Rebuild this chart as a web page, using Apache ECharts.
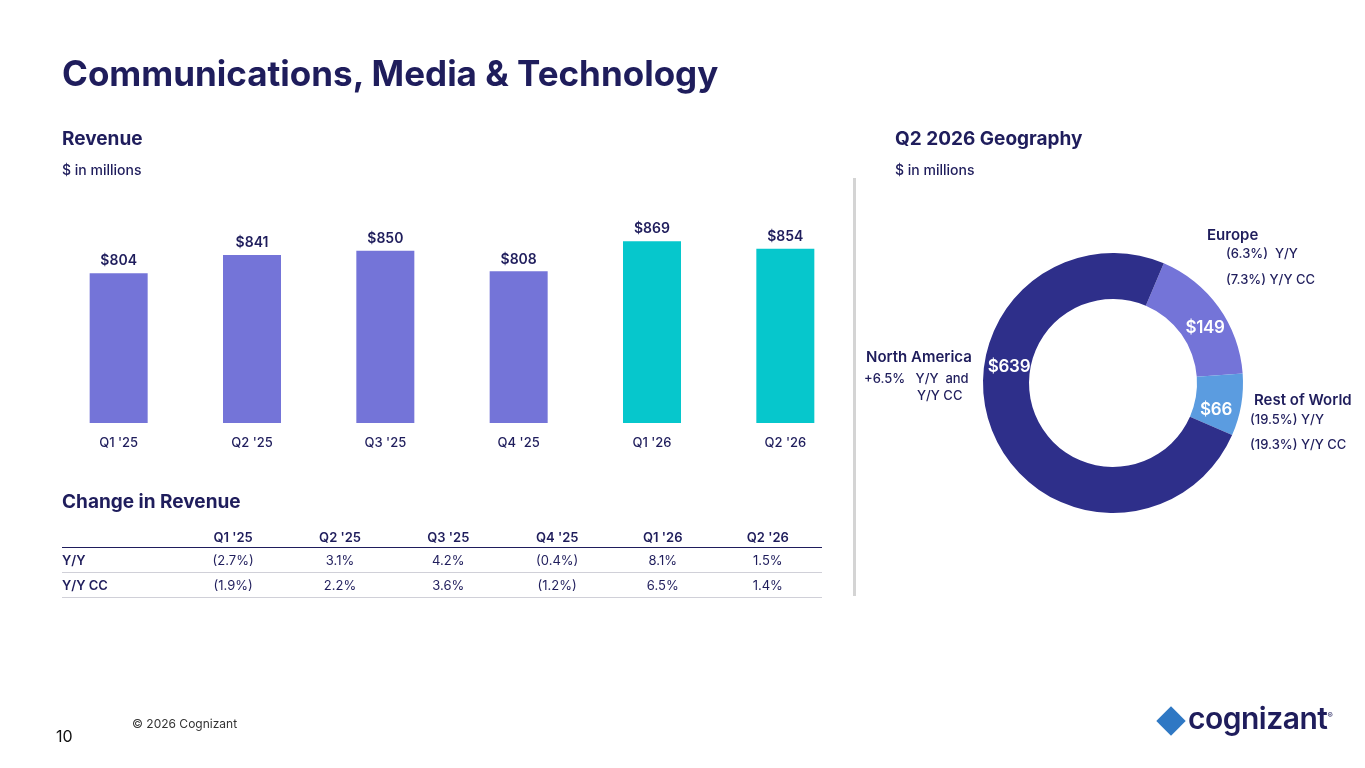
<!DOCTYPE html>
<html><head><meta charset="utf-8">
<script src="https://cdn.jsdelivr.net/npm/echarts@6/dist/echarts.min.js"></script>
<style>
body{margin:0;width:1365px;height:768px;background:#fff;font-family:Inter,"Noto Sans",sans-serif;color:#1f1d5c;position:relative;overflow:hidden}
.t{position:absolute;white-space:nowrap}
#c{position:absolute;left:0;top:0;width:1365px;height:768px}
table{position:absolute;left:62px;top:527px;width:760px;border-collapse:collapse;font-size:13px}
td,th{height:24px;padding:0;text-align:center;font-weight:400}
th{font-weight:600;border-bottom:1.5px solid #1f1d5c;height:20px}
tr.r td{border-bottom:1px solid #d0d0d8}
td:first-child,th:first-child{text-align:left;font-weight:600}
.pl{position:absolute;color:#fff;font-size:17px;font-weight:600;transform:translate(-50%,-50%);letter-spacing:-0.3px}
</style></head><body>
<div id="c"></div>
<div class="t" style="left:62px;top:52px;font-size:35px;font-weight:700">Communications, Media &amp; Technology</div>
<div class="t" style="left:62px;top:127px;font-size:19px;font-weight:700">Revenue</div>
<div class="t" style="left:62px;top:161px;font-size:14px;font-weight:500">$ in millions</div>
<div class="t" style="left:895px;top:127px;font-size:19px;font-weight:700">Q2 2026 Geography</div>
<div class="t" style="left:895px;top:161px;font-size:14px;font-weight:500">$ in millions</div>
<div class="t" style="left:62px;top:490px;font-size:19px;font-weight:700">Change in Revenue</div>
<div style="position:absolute;left:853px;top:178px;width:3px;height:418px;background:#d4d4d4"></div>
<div class="t" style="left:1207px;top:225px;font-size:15px;font-weight:600">Europe</div>
<div class="t" style="left:1226px;top:245px;font-size:13px;font-weight:500">(6.3%)&nbsp; Y/Y</div>
<div class="t" style="left:1226px;top:271px;font-size:13px;font-weight:500">(7.3%) Y/Y CC</div>
<div class="t" style="left:866px;top:347px;font-size:15px;font-weight:600">North America</div>
<div class="t" style="left:864px;top:370px;font-size:13px;font-weight:500">+6.5%&nbsp;&nbsp; Y/Y&nbsp; and</div>
<div class="t" style="left:917px;top:387px;font-size:13px;font-weight:500">Y/Y CC</div>
<div class="t" style="left:1254px;top:390px;font-size:15px;font-weight:600">Rest of World</div>
<div class="t" style="left:1250px;top:411px;font-size:13px;font-weight:500">(19.5%) Y/Y</div>
<div class="t" style="left:1250px;top:436px;font-size:13px;font-weight:500">(19.3%) Y/Y CC</div>
<div class="t" style="left:132px;top:716px;font-size:12px;color:#333">© 2026 Cognizant</div>
<div class="t" style="left:56px;top:726px;font-size:16px;color:#111">10</div>
<div class="t" style="left:1188px;top:700px;font-size:30px;font-weight:600;letter-spacing:-0.5px">cognizant<sup style="font-size:8px">®</sup></div>
<div style="position:absolute;left:1158px;top:708px;width:26px;height:26px;background:#2f78c4;transform:rotate(45deg) scale(0.8)"></div>
<div id="pl"></div>
<table id="tb"></table>
<script>
const categories=["Q1 '25","Q2 '25","Q3 '25","Q4 '25","Q1 '26","Q2 '26"];
const revenue=[804,841,850,808,869,854];
const yoy=["(2.7%)","3.1%","4.2%","(0.4%)","8.1%","1.5%"];
const yoyCC=["(1.9%)","2.2%","3.6%","(1.2%)","6.5%","1.4%"];
const geoNames=["Europe","Rest of World","North America"];
const geoValues=[149,66,639];
const barColors=["#7474d8","#7474d8","#7474d8","#7474d8","#06c7cc","#06c7cc"];
const geoColors=["#7474d8","#5b9ce0","#2e2f8a"];
const geoLabelPos=[[1205,327],[1216,409],[1009,366]];

const tb=document.getElementById('tb');
tb.innerHTML='<tr><th></th>'+categories.map(c=>'<th>'+c+'</th>').join('')+'</tr>'+
'<tr class="r"><td>Y/Y</td>'+yoy.map(v=>'<td>'+v+'</td>').join('')+'</tr>'+
'<tr class="r"><td>Y/Y CC</td>'+yoyCC.map(v=>'<td>'+v+'</td>').join('')+'</tr>';
document.getElementById('pl').innerHTML=geoValues.map((v,i)=>'<div class="pl" style="left:'+geoLabelPos[i][0]+'px;top:'+geoLabelPos[i][1]+'px">$'+v+'</div>').join('');

const ch=echarts.init(document.getElementById('c'));
ch.setOption({
 textStyle:{fontFamily:'Inter'},
 grid:{left:52,top:226,width:800,height:197},
 xAxis:{type:'category',data:categories,axisLine:{show:false},axisTick:{show:false},
   axisLabel:{color:'#1f1d5c',fontSize:13,fontWeight:500,margin:14}},
 yAxis:{type:'value',min:500,max:900,show:false,splitLine:{show:false}},
 series:[{type:'bar',data:revenue.map((v,i)=>({value:v,itemStyle:{color:barColors[i]}})),barWidth:58,
   label:{show:true,position:'top',formatter:'${c}',color:'#1f1d5c',fontSize:14,fontWeight:600,distance:5}},
  {type:'pie',center:[1113,383],radius:[84,130],startAngle:67,clockwise:true,
   data:geoNames.map((n,i)=>({name:n,value:geoValues[i],itemStyle:{color:geoColors[i]}})),
   label:{show:false},labelLine:{show:false},emphasis:{disabled:true}}]
});
</script></body></html>
